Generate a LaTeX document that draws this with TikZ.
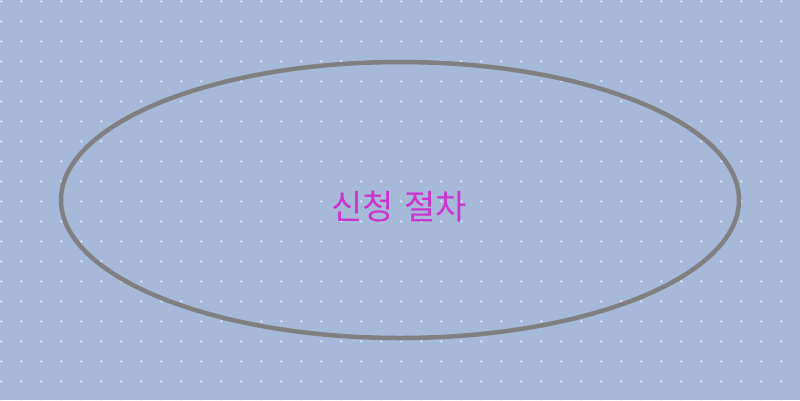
\documentclass[tikz,border=0pt]{standalone}
\usepackage{fontspec}
\newfontfamily\kr{Noto Sans CJK KR}
\definecolor{bgc}{RGB}{166,185,217}
\definecolor{dotc}{RGB}{232,238,248}
\definecolor{edgec}{RGB}{128,128,128}
\definecolor{txtc}{RGB}{204,51,204}
\tikzset{
  ellbox/.style={draw=edgec, line width=4.5pt, ellipse, minimum width=678pt, minimum height=276pt, inner sep=0pt},
  lbl/.style={text=txtc, font=\kr\fontsize{34}{40}\selectfont}
}
\usetikzlibrary{shapes.geometric}
\begin{document}
\begin{tikzpicture}[x=1pt,y=-1pt]
\fill[bgc] (0,0) rectangle (800,400);
\useasboundingbox (0,0) rectangle (800,400);
\foreach \i in {0,...,40}{
  \foreach \j in {0,...,20}{
    \fill[dotc] (\i*20+1.3,\j*20+1.3) circle (1.2pt);
  }
}
\node[ellbox] (e) at (400,200) {};
\node[lbl] (t) at (399,207) {신청\hspace{0.3em}절차};
\end{tikzpicture}
\end{document}
